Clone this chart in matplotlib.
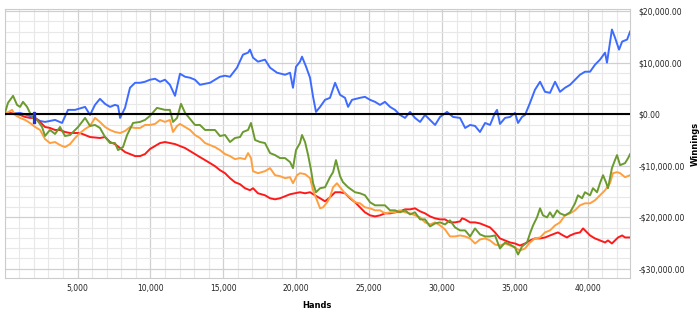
import matplotlib
matplotlib.use("Agg")
import matplotlib.pyplot as plt
from matplotlib.ticker import MultipleLocator, FuncFormatter

# winnings graph, values
blue_hands = [0, 1060, 1950, 2430, 2770, 3460, 3940, 4350, 4830, 5520, 5860, 6200, 6540, 6890,
              7230, 7570, 7780, 7920, 8260, 8600, 8950, 9290, 9630, 9970, 10320, 10660, 11000,
              11340, 11690, 12030, 12380, 12720, 13060, 13400, 13750, 14090, 14430, 14770, 15120,
              15460, 15940, 16350, 16700, 16830, 17040, 17380, 17860, 18210, 18690, 19240, 19580,
              19780, 19990, 20260, 20400, 20680, 20950, 21160, 21360, 21640, 21980, 22320, 22670,
              23010, 23350, 23560, 23830, 24380, 24720, 25070, 25410, 25750, 26090, 26440, 26780,
              27120, 27470, 27810, 28150, 28500, 28840, 29180, 29530, 29870, 30350, 30760, 31240,
              31590, 31930, 32270, 32610, 32960, 33300, 33640, 33780, 33980, 34330, 34670, 35010,
              35220, 35490, 35700, 36040, 36380, 36730, 37070, 37410, 37760, 38100, 38440, 38790,
              39130, 39470, 39810, 40160, 40500, 40840, 41190, 41320, 41660, 41870, 42150, 42360,
              42700, 42910]
blue_win = [0, 250, -530, -1310, -1500, -1110, -1700, 840, 840, 1420, -140, 1810, 2980, 2010,
            1420, 1810, 1620, -720, 1230, 5130, 6100, 6100, 6300, 6690, 6880, 6300, 6690,
            5710, 3570, 7860, 7270, 7080, 6690, 5710, 5910, 6100, 6690, 7270, 7470,
            7270, 9030, 11560, 11950, 12540, 10980, 10200, 10590, 9030, 8050, 7660, 8050,
            5130, 9220, 10200, 11170, 9220, 7080, 3370, 450, 1420, 2790, 3180, 6100,
            3760, 3180, 1420, 2790, 3180, 3370, 2790, 2400, 1810, 2400, 1420, 840,
            -140, -720, 450, -720, -1500, -140, -1110, -2090, -530, 450, -530, -720,
            -2670, -2090, -2280, -3450, -1700, -2090, 250, 840, -1890, -720, -530, 250,
            -1700, -530, -140, 2200, 4740, 6300, 4350, 4150, 6300, 4350, 5130, 5710,
            6690, 7660, 8250, 8250, 9610, 10590, 11950, 10000, 16440, 14880, 12540, 14100,
            14490, 16050]

green_hands = [0, 230, 580, 850, 1060, 1260, 1540, 1740, 1950, 2220, 2570, 2770, 3110, 3460,
               3800, 4140, 4490, 5040, 5520, 5860, 6200, 6540, 6890, 7230, 7570, 7780, 8120,
               8400, 8810, 9290, 9630, 9970, 10450, 11000, 11340, 11550, 11830, 12100, 12380,
               12720, 13060, 13400, 13750, 14090, 14430, 14770, 15120, 15460, 15800, 16150,
               16350, 16700, 16900, 17180, 17520, 17860, 18210, 18550, 18890, 19240, 19580,
               19780, 19990, 20260, 20400, 20610, 20820, 21020, 21160, 21360, 21640, 21980,
               22320, 22530, 22730, 23010, 23210, 23560, 24040, 24380, 24720, 25070, 25410,
               25750, 26090, 26440, 26780, 27120, 27470, 27810, 28150, 28500, 28840, 29180,
               29530, 29870, 30210, 30550, 30900, 31240, 31590, 31930, 32270, 32610, 32960,
               33300, 33640, 33980, 34330, 34670, 35010, 35220, 35490, 35840, 36040, 36250,
               36520, 36730, 36930, 37210, 37410, 37620, 37900, 38100, 38440, 38790, 39130,
               39330, 39610, 39810, 40160, 40360, 40640, 40840, 41050, 41250, 41390, 41660,
               41870, 42010, 42220, 42560, 42770, 42910]
green_win = [0, 2200, 3570, 1810, 1420, 2400, 1420, 250, -720, -1110, -2480, -4230, -3060, -3840,
             -2480, -4230, -4040, -2480, -720, -2280, -2090, -2670, -4430, -5600, -5600, -6960, -6380,
             -4040, -1700, -1500, -1110, -330, 1230, 840, 840, -1500, -720, 2010, 250,
             -920, -2090, -2090, -3060, -3060, -3060, -4230, -4040, -5400, -4620, -4430,
             -3450, -3060, -1700, -5010, -5400, -5600, -7550, -7940, -8520, -8520, -9300,
             -10470, -6960, -5600, -4040, -5400, -7940, -10860, -13400, -15150, -14370, -14180,
             -12230, -11250, -8910, -12040, -13200, -14180, -15150, -15350, -15740, -17100, -17690,
             -17690, -17690, -18660, -18660, -19050, -18660, -19450, -19050, -20420, -20420, -21790,
             -21200, -21000, -21400, -20610, -21980, -22560, -22560, -23730, -22170, -23340, -23730,
             -23730, -23540, -26070, -24900, -25300, -25880, -27240, -25690, -24900, -23150, -21590,
             -20030, -18270, -19640, -20030, -19050, -20030, -18660, -19250, -19640, -19050, -17300,
             -15740, -16320, -15150, -15740, -14370, -15150, -13400, -11840, -13200, -14370, -10470,
             -8910, -7940, -9890, -9500, -8520, -7740]

orange_hands = [0, 510, 710, 1060, 1400, 1740, 2090, 2430, 2770, 3110, 3460, 3800, 4140, 4490,
                4830, 5170, 5520, 5860, 6200, 6540, 6890, 7230, 7570, 7920, 8260, 8600, 8950,
                9290, 9630, 9970, 10320, 10660, 11000, 11340, 11550, 11830, 12030, 12380, 12720,
                13060, 13400, 13750, 14090, 14430, 14770, 15120, 15460, 15800, 16150, 16490,
                16700, 16900, 17040, 17380, 17860, 18210, 18550, 18890, 19240, 19580, 19780,
                20060, 20260, 20610, 20950, 21160, 21430, 21640, 21840, 22120, 22320, 22530,
                22800, 23010, 23350, 23690, 24040, 24380, 24720, 25070, 25410, 25750, 26090,
                26440, 26780, 27120, 27470, 27810, 28150, 28500, 28840, 29180, 29530, 29870,
                30210, 30550, 30900, 31240, 31590, 31930, 32270, 32610, 32960, 33300, 33640,
                33980, 34330, 34670, 35010, 35350, 35700, 36040, 36380, 36730, 37070, 37410,
                37760, 38100, 38440, 38790, 39130, 39470, 39810, 40160, 40500, 40840, 41190,
                41530, 41730, 42010, 42220, 42560, 42910]
orange_win = [0, 840, -140, -720, -1110, -1700, -2480, -3060, -4820, -5600, -5400, -5990, -6380, -5800,
              -4620, -3650, -2870, -2280, -720, -1500, -2480, -3060, -3450, -3650, -3260, -2480, -2670,
              -2670, -2090, -2090, -1890, -1110, -1500, -1110, -3450, -2280, -1890, -2480, -3060,
              -4040, -4620, -5600, -5990, -6380, -6960, -7740, -8130, -8720, -8520, -8720,
              -7550, -8520, -11060, -11450, -11060, -10470, -11840, -12030, -12420, -12230, -13400,
              -11840, -11450, -11640, -12420, -14760, -16710, -18270, -18080, -17100, -16130, -14180,
              -13400, -14180, -15350, -16130, -17100, -17300, -18080, -18270, -18660, -18660, -19250,
              -19050, -19050, -18660, -19050, -19250, -19640, -20030, -21000, -21400, -21000, -21590,
              -22370, -23730, -23730, -23540, -23730, -24120, -25100, -24320, -24120, -24510, -25300,
              -25490, -25100, -25490, -25880, -26460, -26070, -24900, -24120, -23930, -22950, -22560,
              -21590, -21000, -19640, -19250, -18660, -17690, -17300, -17300, -16710, -15740, -14760,
              -13400, -11450, -11250, -11450, -12230, -11840]

red_hands = [0, 370, 1060, 1400, 1740, 2090, 2430, 2770, 3110, 3460, 3800, 4140, 4490, 5170,
             5520, 5860, 6540, 6890, 7230, 7570, 7920, 8260, 8600, 8950, 9290, 9630, 9970,
             10320, 10660, 11000, 11340, 11690, 12030, 12380, 12720, 13060, 13400, 13750, 14090,
             14430, 14770, 15120, 15460, 15800, 16150, 16490, 16830, 17040, 17380, 17860, 18210,
             18550, 18890, 19240, 19580, 19920, 20260, 20610, 20950, 21290, 21640, 21980, 22320,
             22670, 23010, 23350, 23690, 24040, 24380, 24720, 25070, 25410, 25750, 26090, 26440,
             26780, 27120, 27470, 27810, 28150, 28500, 28840, 29180, 29530, 29870, 30210, 30550,
             30900, 31240, 31380, 31590, 31930, 32270, 32610, 32960, 33300, 33640, 33980, 34330,
             34670, 35010, 35350, 35700, 36040, 36380, 36730, 37070, 37410, 37760, 37960, 38310,
             38580, 38790, 39130, 39470, 39680, 39950, 40160, 40500, 40840, 41190, 41390, 41660,
             41870, 42080, 42360, 42560, 42910]
red_win = [0, 250, -140, -530, -720, -720, -1500, -2480, -2670, -3060, -3060, -3450, -3650, -3650,
           -4040, -4430, -4620, -4430, -5400, -5800, -6570, -7350, -7740, -8130, -8130, -7740, -6760,
           -6180, -5600, -5400, -5600, -5800, -6180, -6570, -7160, -7740, -8330, -8910, -9500,
           -10080, -10860, -11450, -12420, -13200, -13600, -14370, -14760, -14370, -15350, -15740, -16320,
           -16520, -16320, -15930, -15540, -15350, -15150, -15350, -15150, -15740, -16320, -16910, -16130,
           -15150, -15150, -15350, -16320, -17100, -18080, -19050, -19640, -19840, -19640, -19250, -19250,
           -19050, -18860, -18470, -18470, -18270, -18860, -19250, -19840, -20220, -20420, -20420, -21000,
           -21000, -20810, -20220, -20420, -21000, -21000, -21200, -21590, -21980, -22950, -24120, -24510,
           -24900, -25100, -25490, -25100, -24510, -24120, -24120, -23930, -23540, -23150, -22950, -23540,
           -23930, -23540, -23150, -22950, -22170, -22950, -23540, -24120, -24510, -24900, -24510, -25100,
           -24510, -23930, -23540, -23930, -23930]

# small dark blue dotted mark near the start of the blue line
mark_hands = [2000, 2000, 2000, 2000]
mark_win = [300, -300, -900, -1500]

x_ticks = [5000, 10000, 15000, 20000, 25000, 30000, 35000, 40000]


def money(v, pos):
    if v < 0:
        return "-${:,.2f}".format(-v)
    return "${:,.2f}".format(v)


fig = plt.figure(figsize=(7, 3.13), dpi=100)
ax = fig.add_axes([0.0066, 0.111, 0.8934, 0.859])

ax.plot(blue_hands, blue_win, color="#3d6bff", lw=1.4, zorder=3)
ax.plot(red_hands, red_win, color="#ff1a1a", lw=1.4, zorder=3)
ax.plot(orange_hands, orange_win, color="#ffa040", lw=1.4, zorder=3)
ax.plot(green_hands, green_win, color="#6b9a2e", lw=1.4, zorder=3)
ax.axhline(0, color="black", lw=1.5, zorder=4)
ax.plot(mark_hands, mark_win, ls="none", marker="s", ms=2, color="#1f2fd0", zorder=5)

ax.set_xlim(0, 42900)
ax.set_ylim(-31850, 20350)

ax.xaxis.set_minor_locator(MultipleLocator(1000))
ax.yaxis.set_major_locator(MultipleLocator(10000))
ax.yaxis.set_minor_locator(MultipleLocator(2000))
ax.set_xticks(x_ticks)
ax.set_xticklabels(["{:,}".format(t) for t in x_ticks])
ax.yaxis.set_major_formatter(FuncFormatter(money))
ax.yaxis.tick_right()
ax.yaxis.set_label_position("right")

ax.grid(which="minor", color="#e8e8e8", lw=0.8)
ax.grid(which="major", color="#d0d0d0", lw=0.9)
ax.set_axisbelow(True)

ax.tick_params(which="both", length=0, labelsize=5.5, colors="#222222")
ax.tick_params(axis="y", pad=6)
ax.tick_params(axis="x", pad=4)
for s in ax.spines.values():
    s.set_color("#cccccc")
    s.set_linewidth(0.8)

ax.set_xlabel("Hands", fontsize=6, fontweight="bold", labelpad=6)
ax.set_ylabel("Winnings", fontsize=6, fontweight="bold", labelpad=4)

fig.savefig("out.png", dpi=100)
